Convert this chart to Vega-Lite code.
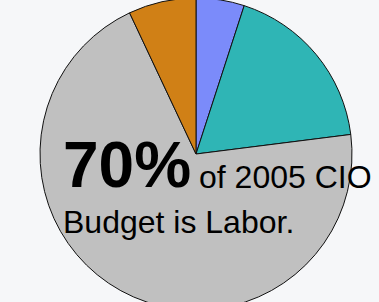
{
  "$schema": "https://vega.github.io/schema/vega-lite/v6.json",
  "autosize": {"type": "fit", "contains": "padding"},
  "width": 379,
  "height": 302,
  "padding": {"left": 13, "top": 6, "right": 0, "bottom": 0},
  "background": "#f6f7f9",
  "config": {"view": {"stroke": null}, "font": "Liberation Sans"},
  "layer": [
    {
      "data": {"values": [
        {"category": "A", "share": 5, "order": 1},
        {"category": "B", "share": 18, "order": 2},
        {"category": "Labor", "share": 70, "order": 3},
        {"category": "D", "share": 7, "order": 4}
      ]},
      "mark": {"type": "arc", "outerRadius": 156, "stroke": "#111111", "strokeWidth": 1},
      "encoding": {
        "theta": {"field": "share", "type": "quantitative", "stack": true},
        "order": {"field": "order", "type": "quantitative"},
        "color": {
          "field": "category", "type": "nominal", "legend": null,
          "scale": {"domain": ["A", "B", "Labor", "D"], "range": ["#7b8bfa", "#2fb5b5", "#c0c0c0", "#d08016"]}
        }
      }
    },
    {
      "data": {"values": [{"t": "70%"}]},
      "mark": {"type": "text", "align": "left", "baseline": "alphabetic", "fontSize": 64, "fontWeight": "bold", "dx": -133, "dy": 33, "color": "#000000"},
      "encoding": {"text": {"field": "t"}}
    },
    {
      "data": {"values": [{"t": "of 2005 CIO"}]},
      "mark": {"type": "text", "align": "left", "baseline": "alphabetic", "fontSize": 32, "dx": 3, "dy": 34, "color": "#000000"},
      "encoding": {"text": {"field": "t"}}
    },
    {
      "data": {"values": [{"t": "Budget is Labor."}]},
      "mark": {"type": "text", "align": "left", "baseline": "alphabetic", "fontSize": 32, "dx": -133, "dy": 79, "color": "#000000"},
      "encoding": {"text": {"field": "t"}}
    }
  ]
}
